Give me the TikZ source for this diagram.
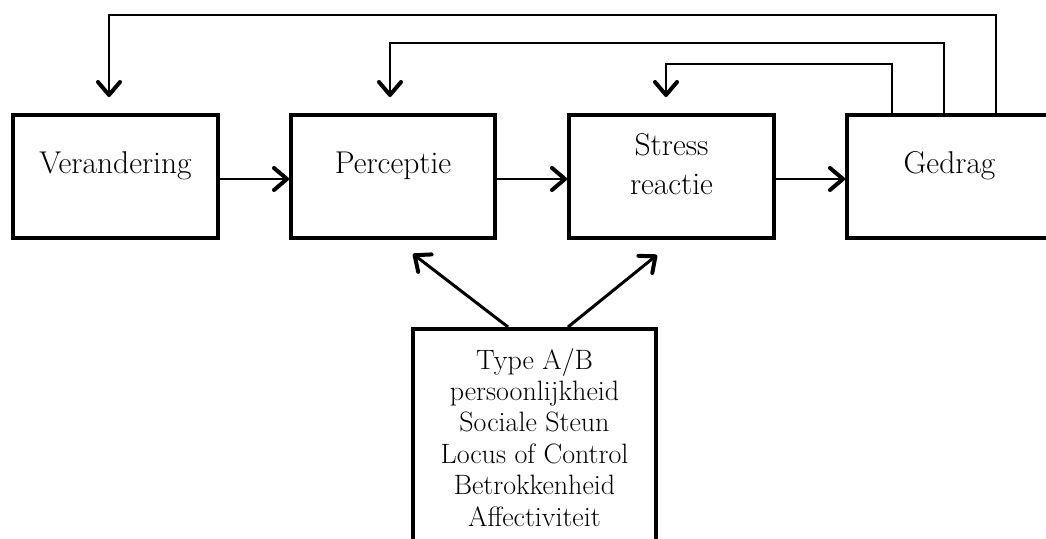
\documentclass[tikz,border=0pt]{standalone}
\usetikzlibrary{arrows.meta,calc}
\begin{document}
\begin{tikzpicture}[x=1pt,y=-1pt,
  boxnode/.style={draw,line width=4pt,rectangle,inner sep=0pt,minimum width=205pt,minimum height=123pt},
  txt/.style={font=\fontsize{31.5}{35}\selectfont,inner sep=0pt,align=center},
  smalltxt/.style={font=\fontsize{28}{31.4}\selectfont,inner sep=0pt,align=center},
  tiphead/.style={-{Straight Barb[length=13pt,width=22pt,line width=4pt,round]}},
  mainarrow/.style={tiphead,line width=2.6pt},
  fbarrow/.style={tiphead,line width=2pt},
  diagarrow/.style={tiphead,line width=3pt}]
\clip (0,0) rectangle (1046,538);
% boxes
\node[boxnode] (b1) at (115.5,176.5) {};
\node[boxnode,minimum width=204pt] (b2) at (393,176.5) {};
\node[boxnode] (b3) at (671.5,176.5) {};
\node[boxnode] (b4) at (949.5,176.5) {};
\node[boxnode,minimum width=243pt,minimum height=231pt] (bb) at (534.5,444.5) {};
% texts
\node[txt,anchor=base] (t1) at (115.5,173) {Verandering};
\node[txt,anchor=base] (t2) at (393,173) {Perceptie};
\node[txt,anchor=base] (t3a) at (671.5,155) {Stress};
\node[txt,anchor=base] (t3b) at (671.5,194) {reactie};
\node[txt,anchor=base] (t4) at (949.5,173) {Gedrag};
\node[smalltxt,anchor=north] (tb) at (534.5,348) {Type A/B\\persoonlijkheid\\Sociale Steun\\Locus of Control\\Betrokkenheid\\Affectiviteit};
% main arrows
\draw[mainarrow] ($(b1.east)+(0,2.5)$) -- ($(b2.west)+(0,2.5)$);
\draw[mainarrow] ($(b2.east)+(0,2.5)$) -- ($(b3.west)+(0,2.5)$);
\draw[mainarrow] ($(b3.east)+(0,2.5)$) -- ($(b4.west)+(0,2.5)$);
% feedback arrows
\draw[fbarrow] ($(b4.north west)+(151,0)$) |- ($(b1.north)+(-6.5,-98)$) -- ($(b1.north)+(-6.5,-16)$);
\draw[fbarrow] ($(b4.north west)+(99,0)$) |- ($(b2.north)+(-3,-70)$) -- ($(b2.north)+(-3,-16)$);
\draw[fbarrow] ($(b4.north west)+(47,0)$) |- ($(b3.north)+(-5.5,-49)$) -- ($(b3.north)+(-5.5,-16)$);
% diagonal arrows
\draw[diagarrow] ($(bb.north)+(-26.5,0)$) -- ($(b2.south)+(20,14)$);
\draw[diagarrow] ($(bb.north)+(33.5,0)$) -- ($(b3.south)+(-14.5,15)$);
\end{tikzpicture}
\end{document}
